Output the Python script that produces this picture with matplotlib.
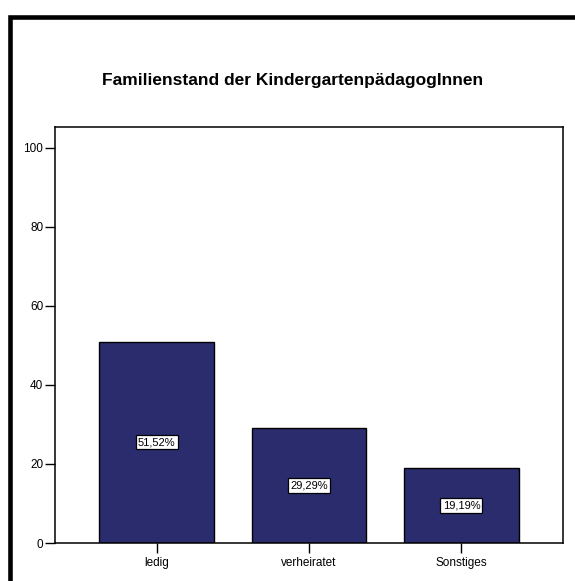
import matplotlib
matplotlib.use("Agg")
import matplotlib.pyplot as plt
from matplotlib.patches import Rectangle

# Data
categories = ["ledig", "verheiratet", "Sonstiges"]
counts = [51, 29, 19]
pct_labels = ["51,52%", "29,29%", "19,19%"]
title = "Familienstand der KindergartenpädagogInnen"

plt.rcParams["font.family"] = ["Liberation Sans", "DejaVu Sans"]

W, H = 575, 581
fig = plt.figure(figsize=(W / 100, H / 100), dpi=100)

# Axes placement in pixels: left 55, right 563, top 127, bottom 543
ax = fig.add_axes([55 / W, 1 - 543 / H, (563 - 55) / W, (543 - 127) / H])

x = range(len(categories))
ax.bar(x, counts, width=0.754, color="#2A2C6E", edgecolor="black", linewidth=1.0)

for i, (c, lab) in enumerate(zip(counts, pct_labels)):
    ax.text(i, c / 2, lab, ha="center", va="center", fontsize=8,
            bbox=dict(boxstyle="square,pad=0.2", facecolor="white",
                      edgecolor="black", linewidth=0.9))

ax.set_xlim(-0.666, 2.666)
ax.set_ylim(0, 105.3)
ax.set_yticks([0, 20, 40, 60, 80, 100])
ax.set_xticks(list(x))
ax.set_xticklabels(categories)
ax.tick_params(axis="y", length=7, width=1.0, labelsize=8.5, pad=1.5)
ax.tick_params(axis="x", length=7, width=1.0, labelsize=8.5, pad=3)
for sp in ax.spines.values():
    sp.set_linewidth(1.1)

fig.text(293 / W, 1 - 80 / H, title, ha="center", va="center",
         fontsize=12.5, fontweight="bold")

# Outer frame
fig.patches.append(Rectangle((10 / W, -0.05), 1.2, 1 - 17 / H + 0.05,
                             transform=fig.transFigure, fill=False,
                             edgecolor="black", linewidth=3.3))

fig.savefig("out.png", dpi=100)
